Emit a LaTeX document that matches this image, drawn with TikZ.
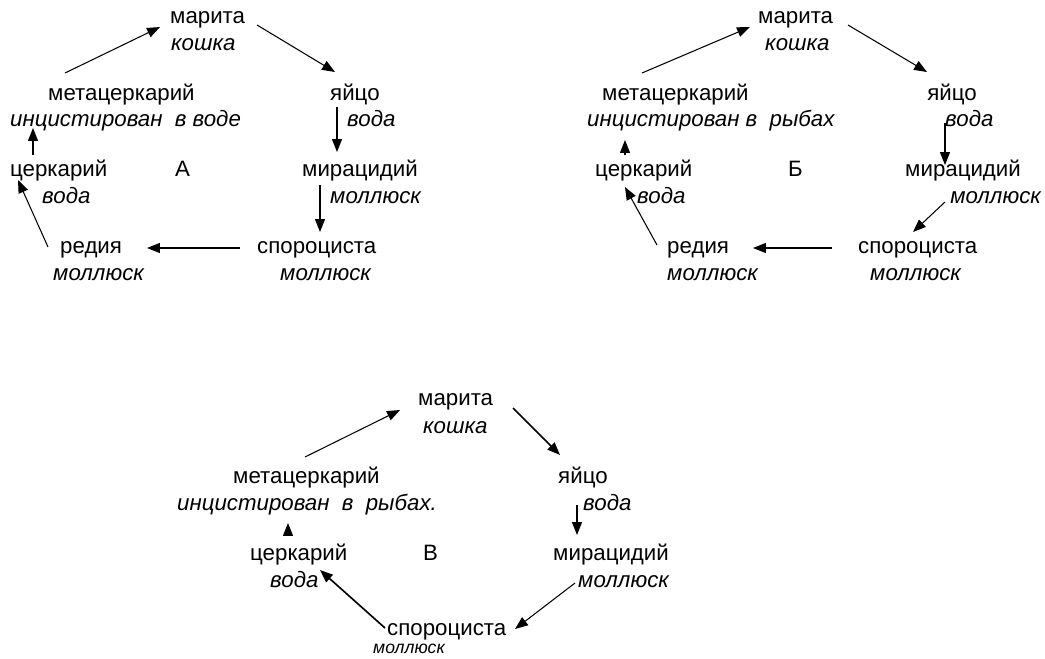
\documentclass[tikz,border=0pt]{standalone}
\usepackage{fontspec}
\setmainfont{Liberation Sans}
\usetikzlibrary{arrows.meta}

\begin{document}
\begin{tikzpicture}[
  x=0.03cm, y=-0.03cm,
  stage/.style={anchor=west, inner sep=0pt, text height=9.9pt, text depth=0pt, font=\fontsize{19}{23}\selectfont},
  host/.style={stage, font=\fontsize{19}{23}\selectfont\itshape},
  smallhost/.style={anchor=west, inner sep=0pt, text height=7.8pt, text depth=0pt, font=\fontsize{15}{18}\selectfont\itshape},
  arrow/.style={-{Triangle[length=11pt, width=8.5pt]}, line width=0.9pt},
  thickarrow/.style={arrow, line width=1.4pt}
]
\useasboundingbox (0,0) rectangle (1045,658);

% A
\node[stage] (marA) at (170,18) {марита};
\node[host] (marAh) at (171,45) {кошка};
\node[stage] (eggA) at (330,95) {яйцо};
\node[host] (eggAh) at (347,121) {вода};
\node[stage] (metA) at (48,95) {метацеркарий};
\node[host] (metAh) at (10,121) {инцистирован\ \ в воде};
\node[stage] (cerA) at (10,171) {церкарий};
\node[host] (cerAh) at (42,198) {вода};
\node[stage] (labA) at (175,171) {А};
\node[stage] (mirA) at (302,171) {мирацидий};
\node[host] (mirAh) at (330,198) {моллюск};
\node[stage] (redA) at (60,248) {редия};
\node[host] (redAh) at (53,275) {моллюск};
\node[stage] (spoA) at (257,248) {спороциста};
\node[host] (spoAh) at (280,275) {моллюск};
\draw[arrow] ([shift={(17,-22)}]metA.west) -- ([shift={(-10,9)}]marA.west);
\draw[arrow] ([shift={(87,7)}]marA.west) -- ([shift={(5,-23)}]eggA.west);
\draw[arrow] ([shift={(7,12)}]eggA.west) -- ([shift={(35,-19)}]mirA.west);
\draw[arrow] ([shift={(18,14)}]mirA.west) -- ([shift={(63,-16)}]spoA.west);
\draw[arrow] ([shift={(-17,0)}]spoA.west) -- ([shift={(87,0)}]redA.west);
\draw[arrow] ([shift={(-12,-1)}]redA.west) -- ([shift={(8,9)}]cerA.west);
\draw[arrow] ([shift={(23,-16)}]cerA.west) -- ([shift={(-15,33)}]metA.west);

% B
\node[stage] (marB) at (758,18) {марита};
\node[host] (marBh) at (765,45) {кошка};
\node[stage] (eggB) at (927,95) {яйцо};
\node[host] (eggBh) at (945,121) {вода};
\node[stage] (metB) at (602,95) {метацеркарий};
\node[host] (metBh) at (587,121) {инцистирован в\ \ рыбах};
\node[stage] (cerB) at (595,171) {церкарий};
\node[host] (cerBh) at (637,198) {вода};
\node[stage] (labB) at (788,171) {Б};
\node[stage] (mirB) at (905,171) {мирацидий};
\node[host] (mirBh) at (950,198) {моллюск};
\node[stage] (redB) at (667,248) {редия};
\node[host] (redBh) at (667,275) {моллюск};
\node[stage] (spoB) at (858,248) {спороциста};
\node[host] (spoBh) at (870,275) {моллюск};
\draw[arrow] ([shift={(40,-22)}]metB.west) -- ([shift={(-8,9)}]marB.west);
\draw[arrow] ([shift={(90,7)}]marB.west) -- ([shift={(0,-23)}]eggB.west);
\draw[arrow] ([shift={(18,28)}]eggB.west) -- ([shift={(40,-6)}]mirB.west);
\draw[arrow] ([shift={(40,31)}]mirB.west) -- ([shift={(55,-16)}]spoB.west);
\draw[arrow] ([shift={(-26,0)}]spoB.west) -- ([shift={(86,0)}]redB.west);
\draw[arrow] ([shift={(-10,-3)}]redB.west) -- ([shift={(30,16)}]cerB.west);
\draw[arrow] ([shift={(30,-16)}]cerB.west) -- ([shift={(23,45)}]metB.west);

% В
\node[stage] (marC) at (418,400) {марита};
\node[host] (marCh) at (423,428) {кошка};
\node[stage] (eggC) at (558,478) {яйцо};
\node[host] (eggCh) at (583,505) {вода};
\node[stage] (metC) at (233,478) {метацеркарий};
\node[host] (metCh) at (177,505) {инцистирован\ \ в\ \ рыбах.};
\node[stage] (cerC) at (250,555) {церкарий};
\node[host] (cerCh) at (270,582) {вода};
\node[stage] (labC) at (423,555) {В};
\node[stage] (mirC) at (553,555) {мирацидий};
\node[host] (mirCh) at (578,582) {моллюск};
\node[stage] (spoC) at (387,630) {спороциста};
\node[smallhost] (spoCh) at (373,649) {моллюск};
\draw[arrow] ([shift={(72,-21)}]metC.west) -- ([shift={(-18,10)}]marC.west);
\draw[thickarrow] ([shift={(95,8)}]marC.west) -- ([shift={(2,-23)}]eggC.west);
\draw[arrow] ([shift={(19,27)}]eggC.west) -- ([shift={(24,-20)}]mirC.west);
\draw[arrow] ([shift={(22,28)}]mirC.west) -- ([shift={(128,-1)}]spoC.west);
\draw[thickarrow] ([shift={(-2,-2)}]spoC.west) -- ([shift={(70,15)}]cerC.west);
\draw[arrow] ([shift={(38,-20)}]cerC.west) -- ([shift={(55,45)}]metC.west);
\end{tikzpicture}
\end{document}
